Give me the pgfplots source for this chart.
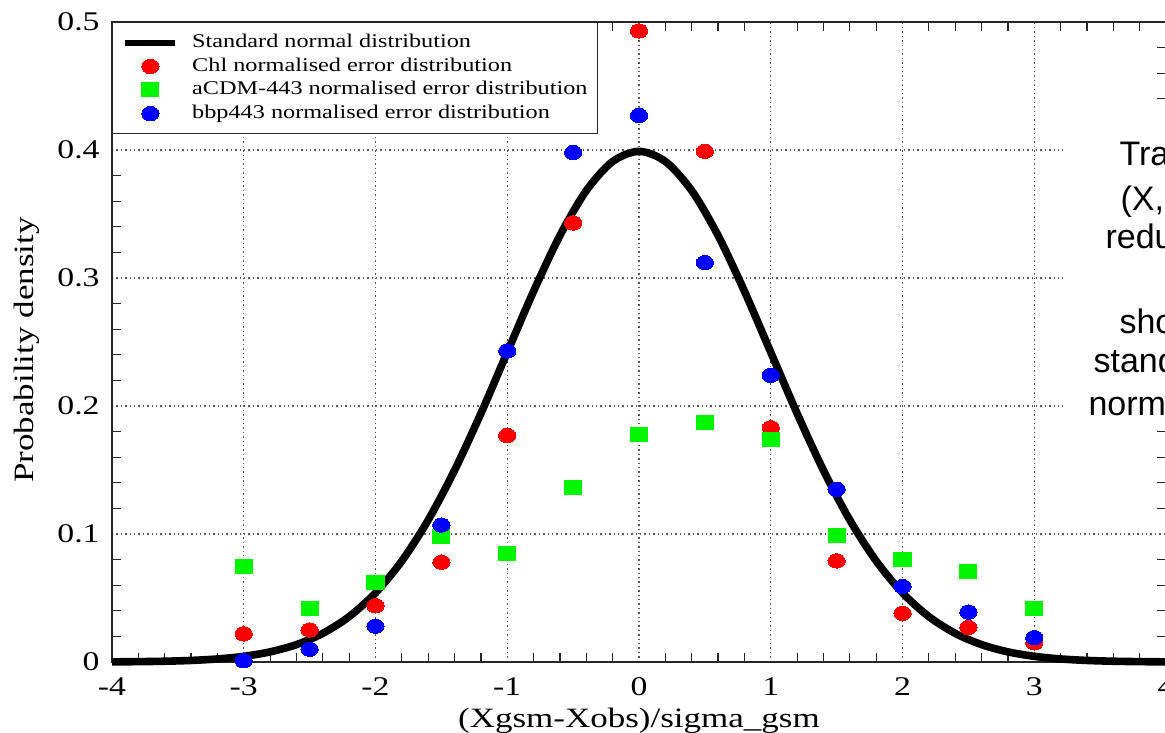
\documentclass[border=0pt]{standalone}
\usepackage{fontspec}
\setmainfont{Liberation Serif}[FakeStretch=1.25]
\newfontfamily\arialfont{Liberation Sans}
\usepackage{pgfplots}
\pgfplotsset{compat=1.18}
\definecolor{mred}{RGB}{255,0,0}
\definecolor{mgreen}{RGB}{0,245,0}
\definecolor{mblue}{RGB}{0,0,255}
\newcommand\ticksfont{\fontsize{13.5}{16}\selectfont}
\newcommand\labelfont{\fontsize{14}{17}\selectfont}
\newcommand\legfont{\fontsize{9.7}{11.5}\selectfont}
\newcommand\ovfont{\arialfont\fontsize{17}{20}\selectfont}
\pgfplotsset{
  markleg/.style={legend image code/.code={\draw[mark repeat=2,mark phase=2,##1] plot coordinates {(0pt,0pt) (12.5pt,0pt) (25pt,0pt)};}},
  lineleg/.style={legend image code/.code={\draw[black, line width=2.8pt] (0pt,0pt) -- (25pt,0pt);}},
}
\begin{document}
\begin{tikzpicture}
\begin{axis}[
  name=ax,
  scale only axis,
  width=527pt, height=320pt,
  xmin=-4, xmax=4, ymin=0, ymax=0.5,
  clip=false,
  axis line style={line width=0.9pt, black!85},
  xtick={-4,-3,-2,-1,0,1,2,3,4},
  xticklabels={-4,-3,-2,-1,0,1,2,3,4},
  ytick={0,0.1,0.2,0.3,0.4,0.5},
  yticklabels={0,0.1,0.2,0.3,0.4,0.5},
  minor x tick num=4, minor y tick num=4,
  major tick length=0pt, minor tick length=4.5pt,
  tick style={line width=0.6pt, black!85},
  grid=major,
  grid style={line width=0.7pt, black!65, dash pattern=on 0.7pt off 1.5pt},
  xticklabel style={font=\ticksfont, anchor=base, inner sep=0pt, yshift=-16.5pt},
  yticklabel style={font=\ticksfont, anchor=east, inner sep=0pt, xshift=-6pt},
  every axis x label/.style={at={(axis description cs:0.5,0)}, anchor=base, yshift=-32.5pt, font=\labelfont},
  every axis y label/.style={at={(axis description cs:-0.0806,0.4875)}, rotate=90, anchor=center, font=\labelfont},
  xlabel={(Xgsm-Xobs)/sigma\_gsm},
  ylabel={Probability density},
  legend cell align=left,
  legend style={at={(0,1)}, anchor=north west, draw=black!85, line width=0.6pt, fill=white,
    font=\legfont, inner xsep=5pt, inner ysep=5.5pt, row sep=2.6pt, column sep=7pt,
    nodes={inner sep=0pt, text height=7pt, text depth=2.2pt}},
]
\addplot[black, line width=3.8pt, smooth, line join=round, lineleg]
  coordinates {
  (-4.0,0.00013) (-3.8,0.00029) (-3.6,0.00061) (-3.4,0.00123) (-3.2,0.00238)
  (-3.0,0.00443) (-2.8,0.00792) (-2.6,0.01358) (-2.4,0.02239) (-2.2,0.03547)
  (-2.0,0.05399) (-1.8,0.07895) (-1.6,0.11092) (-1.4,0.14973) (-1.2,0.19419)
  (-1.0,0.24197) (-0.8,0.28969) (-0.6,0.33322) (-0.4,0.36827) (-0.2,0.39104)
  (0.0,0.39894)
  (0.2,0.39104) (0.4,0.36827) (0.6,0.33322) (0.8,0.28969) (1.0,0.24197)
  (1.2,0.19419) (1.4,0.14973) (1.6,0.11092) (1.8,0.07895) (2.0,0.05399)
  (2.2,0.03547) (2.4,0.02239) (2.6,0.01358) (2.8,0.00792) (3.0,0.00443)
  (3.2,0.00238) (3.4,0.00123) (3.6,0.00061) (3.8,0.00029) (4.0,0.00013)
  };
\addlegendentry{Standard normal distribution}
\addplot[only marks, color=mred, mark=*, mark size=3.6pt, mark options={draw=mred, fill=mred, line width=0pt, xscale=1.2}, markleg]
  coordinates {
  (-3,0.022) (-2.5,0.025) (-2,0.044) (-1.5,0.078) (-1,0.177) (-0.5,0.343)
  (0,0.493) (0.5,0.399) (1,0.183) (1.5,0.079) (2,0.038) (2.5,0.027) (3,0.015)
  };
\addlegendentry{Chl normalised error distribution}
\addplot[only marks, color=mgreen, mark=square*, mark size=3.5pt, mark options={draw=mgreen, fill=mgreen, line width=0pt, xscale=1.22}, markleg]
  coordinates {
  (-3,0.075) (-2.5,0.042) (-2,0.062) (-1.5,0.098) (-1,0.085) (-0.5,0.136)
  (0,0.178) (0.5,0.187) (1,0.174) (1.5,0.099) (2,0.080) (2.5,0.071) (3,0.042)
  };
\addlegendentry{aCDM-443 normalised error distribution}
\addplot[only marks, color=mblue, mark=*, mark size=3.6pt, mark options={draw=mblue, fill=mblue, line width=0pt, xscale=1.2}, markleg]
  coordinates {
  (-3,0.001) (-2.5,0.010) (-2,0.028) (-1.5,0.107) (-1,0.243) (-0.5,0.398)
  (0,0.427) (0.5,0.312) (1,0.224) (1.5,0.135) (2,0.059) (2.5,0.039) (3,0.019)
  };
\addlegendentry{bbp443 normalised error distribution}
\fill[white] (axis cs:3.22,0.185) rectangle (axis cs:4.3,0.4215);
\node[anchor=base west, inner sep=0pt, font=\ovfont] at (axis cs:3.644,0.3875) {Tra};
\node[anchor=base west, inner sep=0pt, font=\ovfont] at (axis cs:3.652,0.3531) {(X,};
\node[anchor=base west, inner sep=0pt, font=\ovfont] at (axis cs:3.538,0.3227) {redu};
\node[anchor=base west, inner sep=0pt, font=\ovfont] at (axis cs:3.644,0.2570) {sho};
\node[anchor=base west, inner sep=0pt, font=\ovfont] at (axis cs:3.447,0.2258) {stand};
\node[anchor=base west, inner sep=0pt, font=\ovfont] at (axis cs:3.409,0.1922) {norm};
\end{axis}
\pgfresetboundingbox
\path[use as bounding box] ([shift={(-56pt,-35pt)}]ax.south west) rectangle ([shift={(-0.5pt,11pt)}]ax.north east);
\end{tikzpicture}
\end{document}
